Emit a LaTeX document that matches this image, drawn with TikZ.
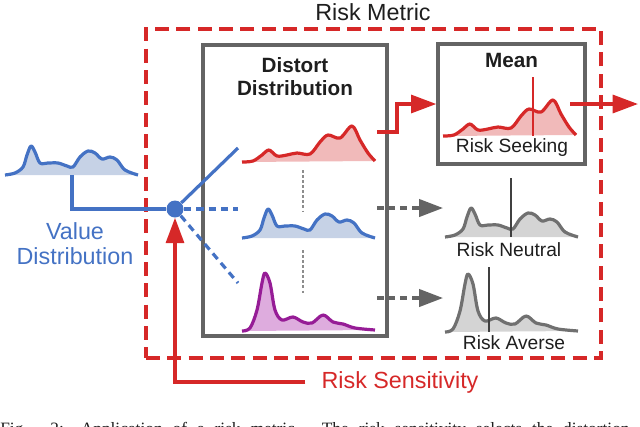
\documentclass[tikz,border=0pt]{standalone}
\usepackage{fontspec}
\setmainfont{Liberation Sans}
\newfontfamily\capfont{Liberation Serif}
\usepackage{tikz}
\usetikzlibrary{arrows.meta,positioning,calc}

\definecolor{riskred}{RGB}{214,40,40}
\definecolor{riskpink}{RGB}{241,186,186}
\definecolor{valblue}{RGB}{68,114,196}
\definecolor{valfill}{RGB}{198,210,230}
\definecolor{avpurple}{RGB}{150,28,150}
\definecolor{avfill}{RGB}{222,172,222}
\definecolor{boxgray}{RGB}{100,100,100}
\definecolor{distgray}{RGB}{112,112,112}
\definecolor{distfill}{RGB}{212,212,212}
\definecolor{inkgray}{RGB}{30,30,30}

% distribution shapes, baseline at the given point
\newcommand{\seekcurve}[3]{\draw[curve, draw=#1, fill=#2, shift={#3}] plot[smooth, tension=0.55] coordinates {(0,0) (11,-1) (20,-7) (27,-12) (35,-6) (45,-7) (55,-9) (68,-8) (78,-20) (86,-27) (98,-24) (110,-36) (118,-22) (126,-9) (133,-1)};}
\newcommand{\neutralcurve}[3]{\draw[curve, draw=#1, fill=#2, shift={#3}] plot[smooth, tension=0.55] coordinates {(0,0) (10,-2) (18,-8) (22,-20) (26,-29) (30,-23) (35,-12) (43,-12) (53,-12) (62,-9) (68,-8) (75,-18) (83,-24) (90,-22) (97,-16) (105,-18) (112,-15) (120,-5) (133,0)};}
\newcommand{\aversecurve}[3]{\draw[curve, draw=#1, fill=#2, shift={#3}] plot[smooth, tension=0.55] coordinates {(0,0) (8,-3) (15,-21) (20,-48) (23,-58) (28,-48) (33,-21) (40,-11) (51,-14) (61,-9) (70,-8) (81,-16) (91,-9) (101,-7) (113,-3) (133,-1)};}

\tikzset{
  curve/.style={line width=2.4pt, line join=round},
  metricbox/.style={draw=riskred, line width=2.4pt, dash pattern=on 10.5pt off 5.5pt, minimum width=341.25pt, minimum height=246.75pt, inner sep=0pt},
  graybox/.style={draw=boxgray, line width=2.5pt, inner sep=0pt},
  bigtext/.style={font=\fontsize{17.5}{18.75}\selectfont},
  boldtext/.style={font=\bfseries\fontsize{15.5}{17.3}\selectfont, text=inkgray},
  smalltext/.style={font=\fontsize{14.4}{17}\selectfont, text=inkgray},
  valueline/.style={draw=valblue, line width=2.4pt},
  valuedash/.style={valueline, dash pattern=on 5.5pt off 3.8pt},
  redarrow/.style={draw=riskred, line width=2.4pt, -{Triangle[length=19pt,width=13.5pt]}},
  grayarrow/.style={draw=boxgray, line width=2.4pt, dash pattern=on 5pt off 3.8pt, -{Triangle[length=18pt,width=13pt]}},
  dotline/.style={draw=distgray!80, line width=1.8pt, dash pattern=on 2.2pt off 1.6pt},
  meanmark/.style={line width=1.6pt}
}

\begin{document}
\begin{tikzpicture}[x=0.75pt, y=-0.75pt]
  \useasboundingbox (0,0) rectangle (640,426);
  \clip (0,0) rectangle (640,426);

  % boxes
  \node [metricbox] (metric) at (373.5,193.5) {};
  \node [bigtext, text=inkgray] (metriclabel) at (373,12) {Risk Metric};
  \node [graybox, minimum width=138pt, minimum height=218.25pt] (distort) at (295,190.5) {};
  \node [boldtext, align=center] (distortlabel) at (295,76.5) {Distort\\Distribution};
  \node [graybox, minimum width=110.25pt, minimum height=90pt] (mean) at (511.5,104) {};
  \node [boldtext, below=5pt of mean.north] (meanlabel) {Mean};

  % value distribution
  \neutralcurve{valblue}{valfill}{(5,175)}
  \node [bigtext, text=valblue, align=center] (valuelabel) at (75,244) {Value\\Distribution};
  \coordinate (valuefoot) at (72,175);
  \node [circle, fill=valblue, minimum size=12.75pt, inner sep=0pt] (hub) at (175,209) {};
  \coordinate (toseek) at (238,148);
  \coordinate (toneutral) at (238,209);
  \coordinate (toaverse) at (238,283);
  \draw [valueline] (valuefoot) |- (hub);
  \draw [valueline] (hub) -- (toseek);
  \draw [valuedash] (hub) -- (toneutral);
  \draw [valuedash] (hub) -- (toaverse);

  % distorted distributions
  \seekcurve{riskred}{riskpink}{(242,162)}
  \neutralcurve{valblue}{valfill}{(242,238)}
  \aversecurve{avpurple}{avfill}{(242,331)}
  \draw [dotline] (303,170) -- (303,212);
  \draw [dotline] (303,250) -- (303,293);

  % risk measures
  \seekcurve{riskred}{riskpink}{(443,136)}
  \draw [meanmark, riskred] (533,77) -- (533,136);
  \node [smalltext] (seeklabel) at (512,148) {Risk Seeking};
  \neutralcurve{distgray}{distfill}{(445,237)}
  \draw [meanmark, inkgray!85] (511,178) -- (511,237);
  \node [smalltext] (neutrallabel) at (509,250) {Risk Neutral};
  \aversecurve{distgray}{distfill}{(445,332)}
  \draw [meanmark, inkgray!85] (489,267) -- (489,332);
  \node [smalltext] (averselabel) at (514,343) {Risk Averse};

  % connectors
  \coordinate (seekout) at (377,132);
  \coordinate (meanout) at (570,104);
  \coordinate (result) at (638,104);
  \coordinate (neutralout) at (377,208);
  \coordinate (neutralin) at (443,208);
  \coordinate (averseout) at (377,298);
  \coordinate (aversein) at (443,298);
  \draw [redarrow] (seekout) -- ++(20,0) |- (mean.west);
  \draw [redarrow] (meanout) -- (result);
  \draw [grayarrow] (neutralout) -- (neutralin);
  \draw [grayarrow] (averseout) -- (aversein);

  % risk sensitivity
  \node [bigtext, text=riskred, inner xsep=12pt] (sensitivity) at (400,382) {Risk Sensitivity};
  \draw [redarrow] (sensitivity.west) -| (hub.south);

  \node [anchor=north west, inner sep=0pt, text=inkgray] (caption) at (0,422) {\capfont\fontsize{13}{15}\selectfont\makebox[472pt][s]{Fig. 2: Application of a risk metric. The risk sensitivity selects the distortion}};
\end{tikzpicture}
\end{document}
